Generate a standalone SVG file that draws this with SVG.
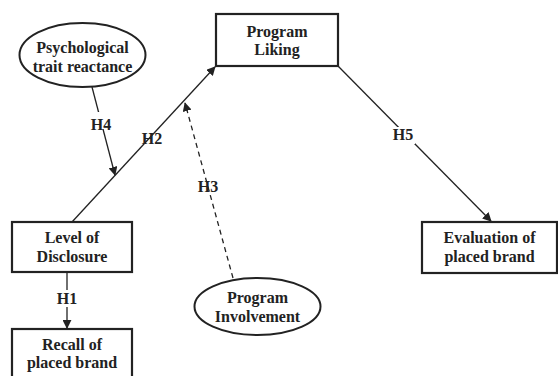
<svg xmlns="http://www.w3.org/2000/svg" width="558" height="376" viewBox="0 0 558 376">
<defs>
<marker id="arr" viewBox="0 0 10 10" refX="9" refY="5" markerWidth="9" markerHeight="9" markerUnits="userSpaceOnUse" orient="auto">
<path d="M0,0 L10,5 L0,10 z" fill="#222"/>
</marker>
</defs>
<style>
.box{fill:#fff;stroke:#222;stroke-width:2.2}
.ell{fill:#fff;stroke:#222;stroke-width:2}
.t{font-family:"Liberation Serif","Times New Roman",serif;font-weight:bold;font-size:16px;fill:#222;text-anchor:middle}
.ln{stroke:#222;stroke-width:1.3;fill:none}
.dash{stroke-dasharray:5,4}
.lbl{font-family:"Liberation Serif","Times New Roman",serif;font-weight:bold;font-size:16px;fill:#222;text-anchor:middle}
</style>
<rect width="558" height="376" fill="#fff"/>
<g id="connectors">
<line class="ln" x1="72" y1="222" x2="215" y2="67" marker-end="url(#arr)"/>
<line class="ln" x1="92" y1="87" x2="115" y2="175" marker-end="url(#arr)"/>
<line class="ln dash" x1="233" y1="278" x2="185" y2="103" marker-end="url(#arr)"/>
<line class="ln" x1="338" y1="66" x2="491" y2="221" marker-end="url(#arr)"/>
<line class="ln" x1="67" y1="273" x2="67" y2="328" marker-end="url(#arr)"/>
<rect x="91" y="112" width="20" height="17" fill="#fff"/>
<text class="lbl" x="101" y="130">H4</text>
<text class="lbl" x="152" y="144">H2</text>
<text class="lbl" x="208" y="192">H3</text>
<rect x="392" y="127" width="23" height="17" fill="#fff"/>
<text class="lbl" x="403" y="140">H5</text>
<rect x="57" y="290" width="20" height="17" fill="#fff"/>
<text class="lbl" x="67" y="304">H1</text>
</g>
<g id="psych">
<ellipse class="ell" cx="82.5" cy="55" rx="63" ry="32"/>
<text class="t" x="82.5" y="53">Psychological</text>
<text class="t" x="82.5" y="72">trait reactance</text>
</g>
<g id="liking">
<rect class="box" x="216" y="14" width="122" height="52"/>
<text class="t" x="277" y="37">Program</text>
<text class="t" x="277" y="55">Liking</text>
</g>
<g id="disclosure">
<rect class="box" x="12" y="222" width="120" height="50"/>
<text class="t" x="72" y="243">Level of</text>
<text class="t" x="72" y="262">Disclosure</text>
</g>
<g id="recall">
<rect class="box" x="12" y="329" width="120" height="52"/>
<text class="t" x="72" y="350">Recall of</text>
<text class="t" x="72" y="368">placed brand</text>
</g>
<g id="involvement">
<ellipse class="ell" cx="257.5" cy="306.5" rx="63" ry="28.5"/>
<text class="t" x="257.5" y="303">Program</text>
<text class="t" x="257.5" y="322">Involvement</text>
</g>
<g id="evaluation">
<rect class="box" x="422" y="222" width="135" height="51"/>
<text class="t" x="489.5" y="243">Evaluation of</text>
<text class="t" x="489.5" y="262">placed brand</text>
</g>
</svg>
